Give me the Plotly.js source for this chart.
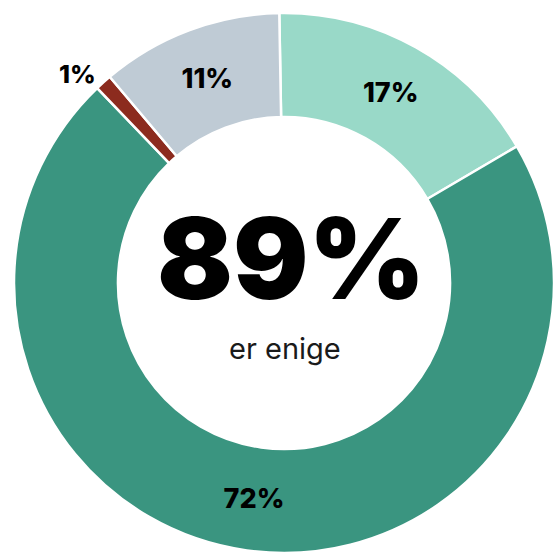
<!DOCTYPE html>
<html>
<head>
<meta charset="utf-8">
<script src="https://cdn.plot.ly/plotly-3.0.1.min.js"></script>
<style>html,body{margin:0;padding:0;background:#fff;}#chart{width:554px;height:553px;}</style>
</head>
<body>
<div id="chart"></div>
<script>
const categories = ['Helt enig', 'Delvis enig', 'Uenig', 'Vet ikke'];
const values = [17, 72, 1, 11];
const labelTexts = ['17%', '72%', '1%', '11%'];
const colors = ['#99d9c8', '#3a9580', '#8c2b1e', '#bfcbd5'];
const centerValue = '89%';
const centerLabel = 'er enige';

const trace = {
  type: 'pie',
  labels: categories,
  values: values,
  text: labelTexts,
  textinfo: 'text',
  hole: 0.615,
  sort: false,
  direction: 'clockwise',
  rotation: -1,
  marker: {colors: colors, line: {color: '#ffffff', width: 2.5}},
  textposition: ['inside', 'inside', 'outside', 'inside'],
  insidetextorientation: 'horizontal',
  textfont: {family: 'Inter, sans-serif', size: 27, color: '#000000', weight: 800},
  outsidetextfont: {family: 'Inter, sans-serif', size: 25, color: '#000000', weight: 800},
  automargin: false,
  showlegend: false,
  hoverinfo: 'none',
  domain: {x: [14/554, 1], y: [0, 1 - 13/553]}
};

const layout = {
  width: 554, height: 553,
  margin: {l: 0, r: 0, t: 0, b: 0},
  paper_bgcolor: '#ffffff',
  showlegend: false,
  annotations: [
    {text: centerValue, x: 291/554, y: 1 - 258/553, xref: 'paper', yref: 'paper',
     xanchor: 'center', yanchor: 'middle', showarrow: false,
     font: {family: 'Inter, sans-serif', size: 112, color: '#000000', weight: 900}},
    {text: centerLabel, x: 285/554, y: 1 - 348/553, xref: 'paper', yref: 'paper',
     xanchor: 'center', yanchor: 'middle', showarrow: false,
     font: {family: 'Inter, sans-serif', size: 29, color: '#1a1a1a', weight: 400}}
  ]
};

Plotly.newPlot('chart', [trace], layout, {displayModeBar: false, staticPlot: true});
</script>
</body>
</html>
